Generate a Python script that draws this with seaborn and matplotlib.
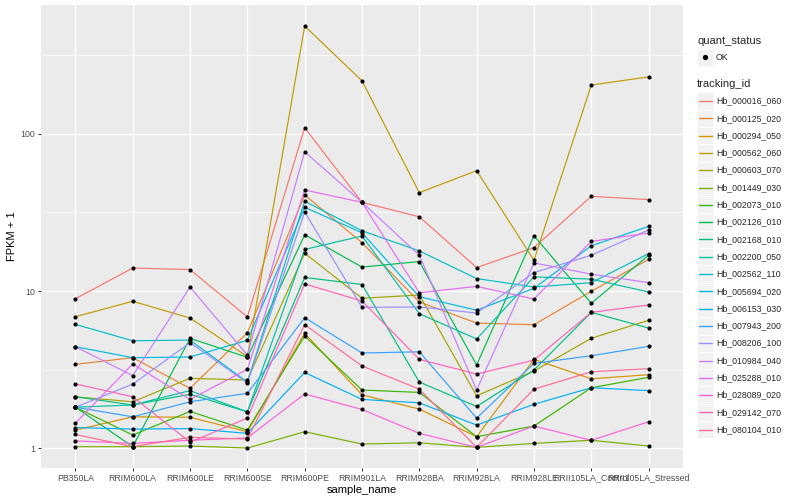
import numpy as np
import pandas as pd
import matplotlib
matplotlib.use("Agg")
import matplotlib.pyplot as plt
import seaborn as sns
from matplotlib.patches import Rectangle
from matplotlib.lines import Line2D

# sample order on the x axis
samples = ["PB350LA", "RRIM600LA", "RRIM600LE", "RRIM600SE", "RRIM600PE", "RRIM901LA",
           "RRIM928BA", "RRIM928LA", "RRIM928LE", "RRII105LA_Control", "RRII105LA_Stressed"]

# FPKM + 1 per gene (same order as samples)
hb_000016_060 = [8.93, 14.0, 13.7, 6.83, 109.7, 36.7, 29.7, 14.1, 18.9, 40.1, 38.2]
hb_000125_020 = [3.41, 3.76, 2.40, 5.42, 40.9, 20.3, 8.51, 6.25, 6.10, 9.96, 15.9]
hb_000294_050 = [1.30, 1.58, 1.57, 1.27, 5.38, 2.18, 1.77, 1.18, 3.67, 2.76, 2.93]
hb_000562_060 = [6.86, 8.60, 6.73, 3.82, 487.0, 218.0, 42.3, 58.4, 15.7, 205.0, 231.0]
hb_000603_070 = [2.12, 1.97, 2.78, 2.71, 17.4, 8.99, 9.43, 2.15, 3.09, 5.00, 6.51]
hb_001449_030 = [1.02, 1.02, 1.03, 1.00, 1.27, 1.06, 1.08, 1.01, 1.07, 1.12, 1.03]
hb_002073_010 = [1.82, 1.21, 1.71, 1.30, 5.17, 2.34, 2.26, 1.18, 1.38, 2.42, 2.82]
hb_002126_010 = [1.82, 1.02, 5.00, 3.78, 22.8, 14.2, 15.4, 3.38, 22.5, 8.35, 16.9]
hb_002168_010 = [2.12, 1.88, 2.20, 1.70, 12.2, 11.0, 2.63, 1.84, 3.14, 7.31, 5.81]
hb_002200_050 = [1.82, 1.88, 2.32, 1.70, 18.4, 22.4, 7.17, 4.95, 12.3, 11.9, 9.86]
hb_002562_110 = [6.13, 4.82, 4.87, 2.63, 37.3, 24.2, 18.0, 12.0, 10.6, 11.3, 17.3]
hb_005694_020 = [4.42, 3.76, 3.80, 4.85, 34.1, 23.5, 9.20, 7.54, 10.4, 19.4, 25.8]
hb_006153_030 = [1.35, 1.32, 1.33, 1.24, 3.03, 2.04, 1.94, 1.40, 1.90, 2.42, 2.32]
hb_007943_200 = [1.82, 1.58, 1.97, 2.23, 6.76, 4.03, 4.10, 1.55, 3.46, 3.87, 4.44]
hb_008206_100 = [1.82, 2.55, 4.69, 2.60, 31.9, 7.87, 7.91, 7.24, 13.1, 16.9, 24.5]
hb_010984_040 = [4.42, 2.89, 10.6, 3.91, 77.1, 36.7, 16.9, 2.34, 15.1, 12.8, 11.3]
hb_025288_010 = [1.44, 3.43, 2.04, 3.17, 44.0, 36.7, 9.75, 10.7, 8.89, 20.7, 23.4]
hb_028089_020 = [1.11, 1.07, 1.12, 1.16, 2.21, 1.76, 1.24, 1.01, 1.38, 1.12, 1.47]
hb_029142_070 = [2.56, 2.12, 1.09, 1.55, 11.1, 8.63, 3.67, 2.96, 3.63, 7.31, 8.15]
hb_080104_010 = [1.22, 1.02, 1.17, 1.14, 6.10, 3.33, 2.37, 1.01, 2.37, 3.06, 3.20]

tracking_ids = ["Hb_000016_060", "Hb_000125_020", "Hb_000294_050", "Hb_000562_060",
                "Hb_000603_070", "Hb_001449_030", "Hb_002073_010", "Hb_002126_010",
                "Hb_002168_010", "Hb_002200_050", "Hb_002562_110", "Hb_005694_020",
                "Hb_006153_030", "Hb_007943_200", "Hb_008206_100", "Hb_010984_040",
                "Hb_025288_010", "Hb_028089_020", "Hb_029142_070", "Hb_080104_010"]
gene_values = [hb_000016_060, hb_000125_020, hb_000294_050, hb_000562_060, hb_000603_070,
               hb_001449_030, hb_002073_010, hb_002126_010, hb_002168_010, hb_002200_050,
               hb_002562_110, hb_005694_020, hb_006153_030, hb_007943_200, hb_008206_100,
               hb_010984_040, hb_025288_010, hb_028089_020, hb_029142_070, hb_080104_010]

# ggplot2 default hue palette for 20 levels
palette = ["#F8766D", "#EA8331", "#D89000", "#C09B00", "#A3A500", "#7CAE00", "#39B600",
           "#00BB4E", "#00BF7D", "#00C1A3", "#00BFC4", "#00BAE0", "#00B0F6", "#35A2FF",
           "#9590FF", "#C77CFF", "#E76BF3", "#FA62DB", "#FF62BC", "#FF6C91"]

# long table
rows = []
for tid, vals in zip(tracking_ids, gene_values):
    for i, (s, v) in enumerate(zip(samples, vals)):
        rows.append({"tracking_id": tid, "sample_name": s, "x_pos": i, "fpkm1": v})
df = pd.DataFrame(rows)

sns.set_theme(style="darkgrid")
plt.rcParams["font.family"] = ["Liberation Sans", "DejaVu Sans"]

W, H = 800, 500
fig = plt.figure(figsize=(8, 5), dpi=100)
ax = fig.add_axes([41 / W, 1 - 468 / H, 642 / W, 463 / H])
ax.set_facecolor("#EBEBEB")

sns.lineplot(data=df, x="x_pos", y="fpkm1", hue="tracking_id", hue_order=tracking_ids,
             palette=palette, estimator=None, sort=False, linewidth=0.85, legend=False, ax=ax)
sns.scatterplot(data=df, x="x_pos", y="fpkm1", color="black", s=9, linewidth=0, ax=ax,
                legend=False, zorder=5)

ax.set_yscale("log")
ax.set_ylim(0.746, 663)
ax.set_xlim(-0.6, len(samples) - 0.4)
ax.set_yticks([1, 10, 100])
ax.set_yticklabels(["1", "10", "100"])
ax.set_yticks([10 ** 0.5, 10 ** 1.5, 10 ** 2.5], minor=True)
ax.set_xticks(range(len(samples)))
ax.set_xticklabels(samples)

ax.grid(True, which="major", color="white", linewidth=1.0)
ax.grid(True, which="minor", color="white", linewidth=0.5)
ax.grid(False, which="minor", axis="x")
for sp in ax.spines.values():
    sp.set_visible(False)
ax.tick_params(which="major", length=2.5, width=0.7, color="#333333", labelcolor="#4D4D4D",
               labelsize=6.3, pad=1.5, left=True, bottom=True)
ax.tick_params(which="minor", length=0)

ax.set_xlabel("sample_name", fontsize=8, color="black", labelpad=2)
ax.set_ylabel("FPKM + 1", fontsize=8, color="black", labelpad=3)

# legends, drawn in ggplot style in figure pixels
def fy(py):
    return 1 - py / H

key_x, key_w, step = 697, 16, 17.3
text_x = 716

fig.text(key_x / W, fy(41), "quant_status", fontsize=8, va="center", ha="left")
fig.add_artist(Rectangle((key_x / W, fy(57.3 + step / 2)), key_w / W, step / H,
                         facecolor="#F2F2F2", edgecolor="white", linewidth=0.6,
                         transform=fig.transFigure))
fig.add_artist(Line2D([(key_x + key_w / 2) / W], [fy(57.3)], marker="o", markersize=2.8,
                      color="black", linestyle="none", transform=fig.transFigure))
fig.text(text_x / W, fy(57.3), "OK", fontsize=6.3, va="center", ha="left")

fig.text(key_x / W, fy(84), "tracking_id", fontsize=8, va="center", ha="left")
for i, (tid, col) in enumerate(zip(tracking_ids, palette)):
    yc = 101 + i * step
    fig.add_artist(Rectangle((key_x / W, fy(yc + step / 2)), key_w / W, step / H,
                             facecolor="#F2F2F2", edgecolor="white", linewidth=0.6,
                             transform=fig.transFigure))
    fig.add_artist(Line2D([(key_x + 1.5) / W, (key_x + key_w - 1.5) / W], [fy(yc), fy(yc)],
                          color=col, linewidth=1.0, transform=fig.transFigure))
    fig.text(text_x / W, fy(yc), tid, fontsize=6.3, va="center", ha="left")

fig.savefig("out.png", dpi=100)
